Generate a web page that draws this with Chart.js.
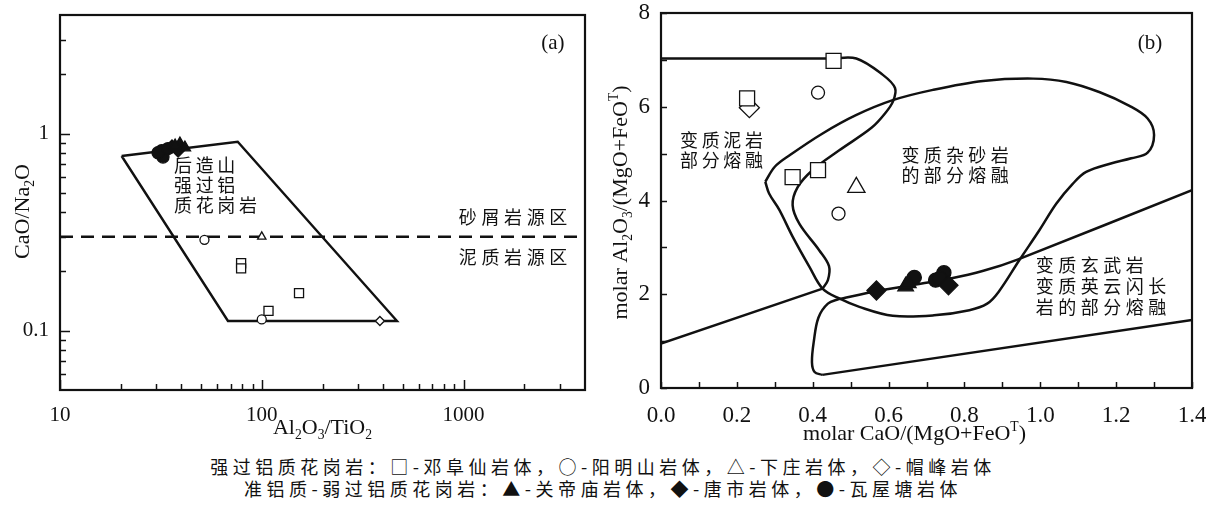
<!DOCTYPE html>
<html>
<head>
<meta charset="utf-8">
<script src="https://cdn.jsdelivr.net/npm/chart.js@4.4.0/dist/chart.umd.min.js"></script>
<style>
  body { margin: 0; background: #fff; width: 1206px; height: 505px; overflow: hidden; position: relative; }
  #boxA { position: absolute; left: 0; top: 0; }
  #boxB { position: absolute; left: 600px; top: 0; }
  .cap { position: absolute; left: 0; width: 1206px; text-align: center; font-family: "Noto Sans CJK SC", sans-serif;
         font-size: 18px; letter-spacing: 4.5px; color: #111; line-height: 22px; white-space: nowrap; }
</style>
</head>
<body>
<canvas id="boxA" width="600" height="445"></canvas>
<canvas id="boxB" width="606" height="445"></canvas>
<div class="cap" style="top:455px">强过铝质花岗岩：□-邓阜仙岩体，○-阳明山岩体，△-下庄岩体，◇-帽峰岩体</div>
<div class="cap" style="top:477px">准铝质-弱过铝质花岗岩：▲-关帝庙岩体，◆-唐市岩体，●-瓦屋塘岩体</div>
<script>
'use strict';

// (a) Al2O3/TiO2 vs CaO/Na2O, values [x, y]
let aDengfuxian = [[79, 0.22], [79, 0.207], [153, 0.155], [108, 0.126]];
let aYangmingshan = [[52, 0.289], [100, 0.114]];
let aXiazhuang = [[100, 0.30]];
let aMaofeng = [[385, 0.112]];
let aGuandimiao = [[39.3, 0.89], [41.6, 0.85], [37.2, 0.87]];
let aTangshi = [[35.9, 0.86], [38.5, 0.82]];
let aWawutang = [[31.9, 0.82], [32.4, 0.76], [30.6, 0.80], [34.3, 0.84]];
let aField = [[20.2, 0.77], [76, 0.91], [468, 0.112], [68, 0.112], [20.2, 0.77]];
let aDivide = [[10, 0.3], [4000, 0.3]];
let aXTicks = [10, 20, 30, 40, 50, 60, 70, 80, 90, 100, 200, 300, 400, 500, 600, 700, 800, 900, 1000, 2000, 3000];
let aXLabels = [10, 100, 1000];
let aYTicks = [0.06, 0.07, 0.08, 0.09, 0.1, 0.2, 0.3, 0.4, 0.5, 0.6, 0.7, 0.8, 0.9, 1, 2, 3];
let aYLabels = [0.1, 1];

// (b) molar CaO/(MgO+FeOT) vs molar Al2O3/(MgO+FeOT)
let bDengfuxian = [[0.455, 6.98], [0.227, 6.18], [0.347, 4.5], [0.414, 4.65]];
let bYangmingshan = [[0.414, 6.3], [0.468, 3.72]];
let bXiazhuang = [[0.515, 4.28]];
let bMaofeng = [[0.233, 5.98]];
let bGuandimiao = [[0.645, 2.17], [0.652, 2.24]];
let bTangshi = [[0.568, 2.08], [0.758, 2.19]];
let bWawutang = [[0.668, 2.36], [0.724, 2.3], [0.746, 2.46], [0.735, 2.34]];
let bPelite = [[0, 7.03], [0.45, 7.03], [0.515, 7.03], [0.585, 6.68], [0.617, 6.4], [0.612, 6.12], [0.59, 5.85],
  [0.555, 5.55], [0.47, 5.07], [0.40, 4.65], [0.36, 4.28], [0.347, 3.9], [0.365, 3.5], [0.417, 2.94],
  [0.443, 2.6], [0.44, 2.3], [0.426, 2.12]];
let bPeliteBase = [[0, 0.95], [0.426, 2.12]];
let bGreywacke = [[0.275, 4.4], [0.3, 4.72], [0.34, 4.97], [0.426, 5.43], [0.514, 5.82], [0.611, 6.14],
  [0.717, 6.36], [0.849, 6.55], [0.981, 6.6], [1.069, 6.53], [1.157, 6.31], [1.235, 6.02], [1.283, 5.75],
  [1.3, 5.4], [1.283, 5.02], [1.24, 4.9], [1.186, 4.79], [1.121, 4.61], [1.086, 4.36], [1.042, 3.93],
  [0.998, 3.37], [0.945, 2.73], [0.89, 2.05], [0.86, 1.8], [0.813, 1.66], [0.72, 1.55], [0.611, 1.54],
  [0.523, 1.73], [0.47, 1.91], [0.426, 2.12], [0.391, 2.59], [0.347, 3.23], [0.312, 3.8], [0.285, 4.15], [0.275, 4.4]];
let bBasaltTop = [[0.47, 1.9], [0.57, 2.07], [0.66, 2.19], [0.76, 2.33], [0.85, 2.5], [0.94, 2.74], [1.4, 4.22]];
let bBasaltSide = [[0.47, 1.9], [0.44, 1.8], [0.415, 1.5], [0.403, 1.0], [0.398, 0.55], [0.405, 0.34], [0.425, 0.28]];
let bBasaltBase = [[0.425, 0.28], [1.4, 1.45]];
let bXTicks = [0, 0.1, 0.2, 0.3, 0.4, 0.5, 0.6, 0.7, 0.8, 0.9, 1.0, 1.1, 1.2, 1.3, 1.4];
let bXLabels = [0, 0.2, 0.4, 0.6, 0.8, 1.0, 1.2, 1.4];
let bYTicks = [0, 1, 2, 3, 4, 5, 6, 7, 8];
let bYLabels = [0, 2, 4, 6, 8];

const ink = '#111';
const serif = '"Liberation Serif", "Times New Roman", serif';
const cjk = '"Noto Sans CJK SC", sans-serif';

//Helper Functions
function pts(arr) {
  return arr.map(p => ({ x: p[0], y: p[1] }));
}

function markerSet(arr, style, r, filled) {
  return {
    data: pts(arr), pointStyle: style, pointRadius: r, pointHoverRadius: r,
    backgroundColor: filled ? ink : '#fff', borderColor: ink, pointBorderWidth: 1.3, showLine: false, order: 1
  };
}

function curveSet(arr, tension, width, dash) {
  return {
    data: pts(arr), showLine: true, tension: tension, borderColor: ink, borderWidth: width,
    borderDash: dash || [], pointRadius: 0, pointHoverRadius: 0, fill: false, order: 5
  };
}

function drawRich(ctx, parts, cx, cy, size, rot) {
  ctx.save();
  ctx.translate(cx, cy);
  ctx.rotate(rot);
  ctx.fillStyle = ink;
  ctx.textAlign = 'left';
  ctx.textBaseline = 'alphabetic';
  let w = 0;
  for (let p of parts) {
    ctx.font = (p[1] ? size * 0.62 : size) + 'px ' + serif;
    w += ctx.measureText(p[0]).width;
  }
  let x = -w / 2;
  for (let p of parts) {
    ctx.font = (p[1] ? size * 0.62 : size) + 'px ' + serif;
    let dy = p[1] === 1 ? size * 0.22 : (p[1] === 2 ? -size * 0.42 : 0);
    ctx.fillText(p[0], x, size * 0.33 + dy);
    x += ctx.measureText(p[0]).width;
  }
  ctx.restore();
}

// inward ticks, frame, notes and axis titles
const paperPlugin = {
  id: 'paper',
  afterDatasetsDraw(chart, args, opts) {
    let ctx = chart.ctx;
    let a = chart.chartArea;
    ctx.save();
    ctx.strokeStyle = ink;
    ctx.lineWidth = 1.5;
    for (let id of ['x', 'y']) {
      let s = chart.scales[id];
      for (let t of s.ticks) {
        let len = t.label !== '' ? opts.major : opts.minor;
        let p = Math.round(s.getPixelForValue(t.value)) + 0.5;
        ctx.beginPath();
        if (id === 'x') {
          ctx.moveTo(p, a.bottom);
          ctx.lineTo(p, a.bottom - len);
        } else {
          ctx.moveTo(a.left, p);
          ctx.lineTo(a.left + len, p);
        }
        ctx.stroke();
      }
    }
    ctx.lineWidth = 2.2;
    ctx.strokeRect(a.left, a.top, a.right - a.left, a.bottom - a.top);

    ctx.fillStyle = ink;
    ctx.textBaseline = 'middle';
    for (let n of opts.notes) {
      let px = chart.scales.x.getPixelForValue(n.x);
      let py = chart.scales.y.getPixelForValue(n.y);
      ctx.font = n.size + 'px ' + n.family;
      n.lines.forEach((line, i) => {
        let x0 = px;
        if (n.pitch) {
          ctx.textAlign = 'left';
          for (let ch of line) {
            ctx.fillText(ch, x0, py + i * n.lh);
            x0 += n.pitch;
          }
        } else {
          ctx.textAlign = 'center';
          ctx.fillText(line, x0, py + i * n.lh);
        }
      });
    }
    ctx.restore();

    let cx = (a.left + a.right) / 2;
    drawRich(ctx, opts.xTitle, cx + opts.xTitleShift, a.bottom + opts.xTitleGap, 22, 0);
    drawRich(ctx, opts.yTitle, opts.yTitleX, (a.top + a.bottom) / 2 + opts.yTitleShift, 22, -Math.PI / 2);
  }
};

function axisOpts(type, min, max, tickList, labelList, width, height, pad, size, fmt) {
  return {
    type: type, min: min, max: max,
    grid: { display: false }, border: { display: false },
    afterBuildTicks: s => { s.ticks = tickList.map(v => ({ value: v })); },
    afterFit: s => {
      if (width) s.width = width;
      if (height) s.height = height;
      s.paddingTop = 0;
      s.paddingBottom = 0;
      s.paddingLeft = 0;
      s.paddingRight = 0;
    },
    ticks: {
      autoSkip: false, maxRotation: 0, minRotation: 0, padding: pad, color: ink,
      font: { family: serif, size: size },
      callback: v => labelList.some(l => Math.abs(l - v) < 1e-9) ? fmt(v) : ''
    }
  };
}

function makeChart(id, datasets, scales, padding, paper) {
  return new Chart(document.getElementById(id), {
    type: 'scatter',
    data: { datasets: datasets },
    options: {
      responsive: false, animation: false, devicePixelRatio: 1, events: [],
      layout: { padding: padding },
      scales: scales,
      plugins: { legend: { display: false }, tooltip: { enabled: false }, paper: paper }
    },
    plugins: [paperPlugin]
  });
}

//rendering
makeChart('boxA', [
  markerSet(aGuandimiao, 'triangle', 6.5, true),
  markerSet(aTangshi, 'rectRot', 6.5, true),
  markerSet(aWawutang, 'circle', 6, true),
  markerSet(aDengfuxian, 'rect', 6.4, false),
  markerSet(aYangmingshan, 'circle', 4.5, false),
  markerSet(aXiazhuang, 'triangle', 4.8, false),
  markerSet(aMaofeng, 'rectRot', 4.5, false),
  curveSet(aField, 0, 2.4),
  curveSet(aDivide, 0, 2.5, [13, 8])
], {
  x: axisOpts('logarithmic', 10, 4000, aXTicks, aXLabels, 0, 55, 5, 21, v => String(v)),
  y: axisOpts('logarithmic', 0.05, 4, aYTicks, aYLabels, 60, 0, 3, 21, v => String(v))
}, { top: 15, right: 15, left: 0, bottom: 0 }, {
  major: 10, minor: 6,
  xTitle: [['Al', 0], ['2', 1], ['O', 0], ['3', 1], ['/TiO', 0], ['2', 1]],
  yTitle: [['CaO/Na', 0], ['2', 1], ['O', 0]],
  xTitleGap: 37, xTitleShift: 0, yTitleX: 22, yTitleShift: 9,
  notes: [
    { x: 2773, y: 2.86, lines: ['(a)'], family: serif, size: 21, lh: 20 },
    { x: 36.7, y: 0.688, lines: ['后造山', '强过铝', '质花岗岩'], family: cjk, size: 18, lh: 20, pitch: 21.7 },
    { x: 948, y: 0.379, lines: ['砂屑岩源区'], family: cjk, size: 18, lh: 20, pitch: 22.6 },
    { x: 948, y: 0.237, lines: ['泥质岩源区'], family: cjk, size: 18, lh: 20, pitch: 22.6 }
  ]
});

makeChart('boxB', [
  markerSet(bGuandimiao, 'triangle', 9, true),
  markerSet(bTangshi, 'rectRot', 9.5, true),
  markerSet(bWawutang, 'circle', 7, true),
  markerSet(bDengfuxian, 'rect', 10.6, false),
  markerSet(bYangmingshan, 'circle', 6.5, false),
  markerSet(bXiazhuang, 'triangle', 10, false),
  markerSet(bMaofeng, 'rectRot', 10, false),
  curveSet(bPelite, 0.35, 2.5),
  curveSet(bPeliteBase, 0, 2.5),
  curveSet(bGreywacke, 0.35, 2.5),
  curveSet(bBasaltTop, 0.25, 2.5),
  curveSet(bBasaltSide, 0.35, 2.5),
  curveSet(bBasaltBase, 0, 2.5)
], {
  x: axisOpts('linear', 0, 1.4, bXTicks, bXLabels, 0, 57, 6, 23, v => v.toFixed(1)),
  y: axisOpts('linear', 0, 8, bYTicks, bYLabels, 61, 0, 3, 23, v => String(v))
}, { top: 13, right: 14, left: 0, bottom: 0 }, {
  major: 6, minor: 6,
  xTitle: [['molar CaO/(MgO+FeO', 0], ['T', 2], [')', 0]],
  yTitle: [['molar Al', 0], ['2', 1], ['O', 0], ['3', 1], ['/(MgO+FeO', 0], ['T', 2], [')', 0]],
  xTitleGap: 45, xTitleShift: -12, yTitleX: 20, yTitleShift: 2,
  notes: [
    { x: 1.289, y: 7.36, lines: ['(b)'], family: serif, size: 21, lh: 20 },
    { x: 0.05, y: 5.29, lines: ['变质泥岩', '部分熔融'], family: cjk, size: 18, lh: 20, pitch: 21.7 },
    { x: 0.634, y: 4.97, lines: ['变质杂砂岩', '的部分熔融'], family: cjk, size: 18, lh: 20, pitch: 22.3 },
    { x: 0.988, y: 2.62, lines: ['变质玄武岩', '变质英云闪长', '岩的部分熔融'], family: cjk, size: 18, lh: 21, pitch: 22.5 }
  ]
});
</script>
</body>
</html>
